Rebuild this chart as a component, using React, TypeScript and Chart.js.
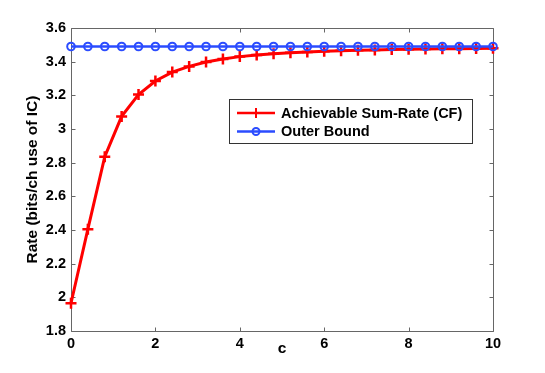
import React, { useEffect, useRef } from "react";
import { Chart, registerables } from "chart.js";

Chart.register(...registerables);

const cValues = [0, 0.4, 0.8, 1.2, 1.6, 2.0, 2.4, 2.8, 3.2, 3.6, 4.0, 4.4, 4.8, 5.2, 5.6, 6.0, 6.4, 6.8, 7.2, 7.6, 8.0, 8.4, 8.8, 9.2, 9.6, 10.0];
const achievableRate = [1.965, 2.405, 2.835, 3.075, 3.205, 3.285, 3.338, 3.372, 3.398, 3.416, 3.430, 3.440, 3.447, 3.453, 3.458, 3.462, 3.465, 3.468, 3.470, 3.472, 3.474, 3.475, 3.476, 3.477, 3.478, 3.479];
const outerBound = [3.49, 3.49, 3.49, 3.49, 3.49, 3.49, 3.49, 3.49, 3.49, 3.49, 3.49, 3.49, 3.49, 3.49, 3.49, 3.49, 3.49, 3.49, 3.49, 3.49, 3.49, 3.49, 3.49, 3.49, 3.49, 3.49];
const seriesLabels = ["Achievable Sum-Rate (CF)", "Outer Bound"];
const xTitle = "c";
const yTitle = "Rate (bits/ch use of IC)";

const RED = "#ff0000";
const BLUE = "#2b4cff";
const AXIS = "#666666";
const FONT = "'Liberation Sans', Arial, Helvetica, sans-serif";

const framePlugin = {
  id: "frame",
  beforeDatasetsDraw(chart: any) {
    const { ctx, chartArea, scales } = chart;
    const { left, right, top, bottom } = chartArea;
    const L = Math.round(left) + 0.5;
    const R = Math.round(right) + 0.5;
    const T = Math.round(top) + 0.5;
    const B = Math.round(bottom) + 0.5;
    ctx.save();
    ctx.strokeStyle = AXIS;
    ctx.lineWidth = 1;
    ctx.beginPath();
    ctx.rect(L, T, R - L, B - T);
    const tl = 4;
    scales.x.ticks.forEach((t: any) => {
      const px = Math.round(scales.x.getPixelForValue(t.value)) + 0.5;
      ctx.moveTo(px, B);
      ctx.lineTo(px, B - tl);
      ctx.moveTo(px, T);
      ctx.lineTo(px, T + tl);
    });
    scales.y.ticks.forEach((t: any) => {
      const py = Math.round(scales.y.getPixelForValue(t.value)) + 0.5;
      ctx.moveTo(L, py);
      ctx.lineTo(L + tl, py);
      ctx.moveTo(R, py);
      ctx.lineTo(R - tl, py);
    });
    ctx.stroke();
    ctx.restore();
  },
};

const legendPlugin = {
  id: "customLegend",
  afterDraw(chart: any) {
    const { ctx } = chart;
    const bx = 229.5, by = 99.5, bw = 243, bh = 44;
    ctx.save();
    ctx.fillStyle = "#ffffff";
    ctx.fillRect(bx, by, bw, bh);
    ctx.strokeStyle = "#333333";
    ctx.lineWidth = 1;
    ctx.strokeRect(bx, by, bw, bh);
    const rows = [
      { label: seriesLabels[0], color: RED, y: 113, marker: "cross" },
      { label: seriesLabels[1], color: BLUE, y: 131.5, marker: "circle" },
    ];
    rows.forEach((r) => {
      ctx.strokeStyle = r.color;
      ctx.lineWidth = 2.5;
      ctx.beginPath();
      ctx.moveTo(237, r.y);
      ctx.lineTo(275, r.y);
      ctx.stroke();
      ctx.beginPath();
      if (r.marker === "cross") {
        ctx.lineWidth = 2;
        ctx.moveTo(256, r.y - 5);
        ctx.lineTo(256, r.y + 5);
        ctx.moveTo(251, r.y);
        ctx.lineTo(261, r.y);
      } else {
        ctx.lineWidth = 2;
        ctx.arc(256, r.y, 3.5, 0, Math.PI * 2);
      }
      ctx.stroke();
      ctx.fillStyle = "#000000";
      ctx.font = `bold 14.5px ${FONT}`;
      ctx.textBaseline = "middle";
      ctx.textAlign = "left";
      ctx.fillText(r.label, 281, r.y + 0.5);
    });
    ctx.restore();
  },
};

export default function App() {
  const ref = useRef<HTMLCanvasElement | null>(null);

  useEffect(() => {
    if (!ref.current) return;
    const chart = new Chart(ref.current, {
      type: "line",
      data: {
        datasets: [
          {
            label: seriesLabels[1],
            data: cValues.map((c, i) => ({ x: c, y: outerBound[i] })),
            borderColor: BLUE,
            backgroundColor: "rgba(0,0,0,0)",
            borderWidth: 2.5,
            pointStyle: "circle",
            pointRadius: 3.8,
            pointBorderWidth: 2,
            pointBorderColor: BLUE,
            pointBackgroundColor: "rgba(0,0,0,0)",
            clip: false,
            order: 0,
          },
          {
            label: seriesLabels[0],
            data: cValues.map((c, i) => ({ x: c, y: achievableRate[i] })),
            borderColor: RED,
            backgroundColor: RED,
            borderWidth: 3,
            pointStyle: "cross",
            pointRadius: 5.5,
            pointBorderWidth: 2.5,
            pointBorderColor: RED,
            clip: false,
            order: 1,
          },
        ],
      },
      options: {
        responsive: false,
        animation: false,
        events: [],
        layout: { padding: { left: 0, top: 28, right: 52, bottom: 0 } },
        plugins: {
          legend: { display: false },
          tooltip: { enabled: false },
        },
        scales: {
          x: {
            type: "linear",
            min: 0,
            max: 10,
            afterFit: (s: any) => {
              s.height = 42;
            },
            ticks: {
              stepSize: 2,
              padding: 4,
              color: "#000000",
              font: { family: FONT, size: 14.5, weight: "bold" },
              maxRotation: 0,
            },
            grid: { display: false, drawTicks: false },
            border: { display: false },
            title: {
              display: true,
              text: xTitle,
              color: "#000000",
              font: { family: FONT, size: 15.5, weight: "bold" },
              padding: { top: 0, bottom: 14.5 },
            },
          },
          y: {
            type: "linear",
            min: 1.8,
            max: 3.6,
            afterFit: (s: any) => {
              s.width = 71;
            },
            ticks: {
              stepSize: 0.2,
              padding: 5,
              color: "#000000",
              font: { family: FONT, size: 14.5, weight: "bold" },
              callback: (v: any) => String(Number(Number(v).toFixed(1))),
            },
            grid: { display: false, drawTicks: false },
            border: { display: false },
            title: {
              display: true,
              text: yTitle,
              color: "#000000",
              font: { family: FONT, size: 15.5, weight: "bold" },
              padding: { top: 23, bottom: 0 },
            },
          },
        },
      },
      plugins: [framePlugin, legendPlugin],
    });
    return () => chart.destroy();
  }, []);

  return (
    <div style={{ position: "absolute", left: 0, top: 0, width: 545, height: 373, background: "#fff" }}>
      <canvas ref={ref} width={545} height={373} style={{ display: "block" }} />
    </div>
  );
}
